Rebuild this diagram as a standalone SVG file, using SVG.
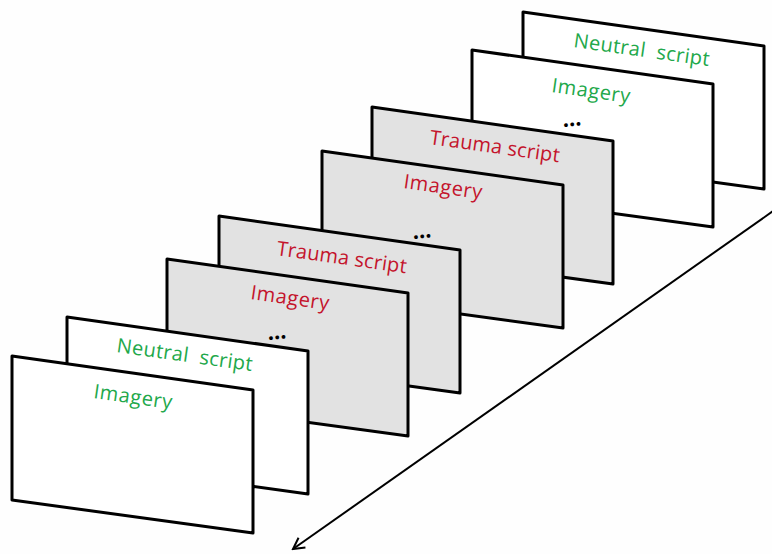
<svg xmlns="http://www.w3.org/2000/svg" width="772" height="554" viewBox="0 0 772 554">
  <defs>
    <polygon id="panel" points="0,0 241,34 241,177 0,144"/>
    <marker id="open-arrow" viewBox="0 0 14 14" refX="12" refY="7" markerWidth="14" markerHeight="14" markerUnits="userSpaceOnUse" orient="auto">
      <path d="M1,1 L12,7 L1,13" fill="none" stroke="#000" stroke-width="2" stroke-linejoin="miter"/>
    </marker>
  </defs>
  <style>
    .frame { stroke: #000; stroke-width: 3; stroke-linejoin: round; }
    .white { fill: #ffffff; }
    .gray { fill: #e2e2e2; }
    .lbl { font-family: "Open Sans", "Liberation Sans", sans-serif; font-size: 20px; }
    .neutral { fill: #22a84a; }
    .trauma { fill: #c4142c; }
    .dots { font-family: "Open Sans", "Liberation Sans", sans-serif; font-size: 22px; font-weight: bold; fill: #000; }
  </style>
  <rect width="772" height="554" fill="#fefefe"/>

  <!-- timeline arrow (behind the stack) -->
  <g id="connectors">
    <line x1="776" y1="209" x2="293" y2="549" stroke="#000" stroke-width="2" marker-end="url(#open-arrow)"/>
  </g>

  <!-- slides, back to front -->
  <g id="slide8">
    <use href="#panel" class="frame white" x="523" y="12"/>
    <text class="lbl neutral" x="573" y="47" transform="rotate(8 573 47)" textLength="137" xml:space="preserve">Neutral  script</text>
  </g>
  <g id="slide7">
    <use href="#panel" class="frame white" x="472" y="50"/>
    <text class="lbl neutral" x="551" y="92" transform="rotate(8 551 92)" textLength="79">Imagery</text>
  </g>
  <g id="slide6">
    <use href="#panel" class="frame gray" x="372" y="107"/>
    <text class="dots" x="563" y="127" transform="rotate(-6 563 127)">...</text>
    <text class="lbl trauma" x="429" y="144" transform="rotate(8 429 144)" textLength="131">Trauma script</text>
  </g>
  <g id="slide5">
    <use href="#panel" class="frame gray" x="322" y="151"/>
    <text class="lbl trauma" x="403" y="188" transform="rotate(8 403 188)" textLength="79">Imagery</text>
  </g>
  <g id="slide4">
    <use href="#panel" class="frame gray" x="219" y="216"/>
    <text class="dots" x="413" y="239" transform="rotate(-6 413 239)">...</text>
    <text class="lbl trauma" x="276" y="255" transform="rotate(8 276 255)" textLength="131">Trauma script</text>
  </g>
  <g id="slide3">
    <use href="#panel" class="frame gray" x="167" y="259"/>
    <text class="lbl trauma" x="250" y="299" transform="rotate(8 250 299)" textLength="79">Imagery</text>
  </g>
  <g id="slide2">
    <use href="#panel" class="frame white" x="67" y="317"/>
    <text class="dots" x="268" y="340" transform="rotate(-6 268 340)">...</text>
    <text class="lbl neutral" x="116" y="352" transform="rotate(8 116 352)" textLength="137" xml:space="preserve">Neutral  script</text>
  </g>
  <g id="slide1">
    <use href="#panel" class="frame white" x="12" y="356"/>
    <text class="lbl neutral" x="93" y="398" transform="rotate(8 93 398)" textLength="79">Imagery</text>
  </g>
</svg>
